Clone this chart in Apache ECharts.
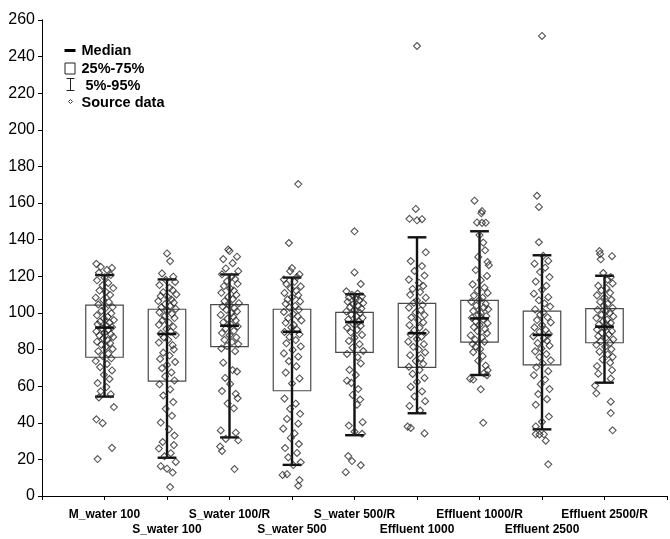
<!DOCTYPE html>
<html>
<head>
<meta charset="utf-8">
<script src="https://cdn.jsdelivr.net/npm/echarts@6/dist/echarts.min.js"></script>
<style>
html, body { margin: 0; padding: 0; background: #fff; }
#chart { width: 670px; height: 539px; }
</style>
</head>
<body>
<div id="chart"></div>
<script>
// groups, left to right
const categories = [
    'M_water 100', 'S_water 100', 'S_water 100/R', 'S_water 500', 'S_water 500/R',
    'Effluent 1000', 'Effluent 1000/R', 'Effluent 2500', 'Effluent 2500/R'
];

// box statistics
const p05 = [54.3, 20.9, 32.0, 17.0, 33.2, 45.2, 66.1, 36.4, 61.9];
const p25 = [75.8, 62.8, 81.6, 57.5, 78.5, 70.3, 84.0, 71.6, 83.7];
const medians = [92.0, 88.5, 93.0, 89.7, 95.0, 88.9, 97.0, 88.0, 92.5];
const p75 = [104.3, 102.0, 104.5, 102.0, 100.3, 105.2, 106.9, 101.0, 102.3];
const p95 = [120.7, 118.3, 121.0, 119.3, 110.2, 141.3, 144.6, 131.5, 120.3];

// source data: [jitter offset, value]
const mWater100 = [[-0.13,126.8],[-0.06,125.2],[0.12,124.6],[0.04,123.5],[-0.09,121.9],[0.1,120.7],[0.0,119.3],[-0.12,117.8],[0.06,116.4],[-0.03,115.1],[0.14,113.6],[-0.08,112.2],[0.02,111.5],[0.09,109.8],[-0.14,108.3],[-0.02,107.1],[0.07,105.9],[-0.1,104.6],[0.13,103.2],[0.01,102.4],[-0.05,101.1],[0.11,99.8],[-0.12,98.7],[0.05,97.9],[-0.01,97.0],[0.15,96.1],[-0.07,95.3],[0.08,94.6],[-0.11,93.8],[0.03,93.1],[0.12,92.2],[-0.04,91.5],[0.06,90.7],[-0.13,89.9],[0.0,89.2],[0.1,88.4],[-0.08,87.6],[0.14,86.9],[-0.02,86.1],[0.05,85.2],[-0.12,84.3],[0.09,83.5],[-0.05,82.6],[0.02,81.4],[0.13,80.3],[-0.1,79.1],[0.06,77.8],[-0.03,76.5],[0.11,75.2],[-0.14,73.7],[0.04,72.1],[-0.07,70.4],[0.12,68.6],[-0.01,66.2],[0.08,63.9],[-0.11,61.7],[0.03,59.5],[-0.06,57.2],[0.1,55.6],[-0.09,53.8],[0.15,48.6],[-0.13,41.9],[-0.03,39.8],[0.12,26.3],[-0.11,20.2]];
const sWater100 = [[0.0,132.5],[0.05,128.3],[-0.08,121.6],[0.1,119.8],[-0.02,118.1],[0.13,116.9],[-0.12,115.2],[0.04,113.7],[0.09,112.4],[-0.06,111.3],[0.15,110.1],[-0.1,109.2],[0.02,108.4],[0.07,107.3],[-0.14,106.5],[0.11,105.6],[-0.03,104.8],[0.05,103.9],[-0.09,103.1],[0.14,102.2],[0.0,101.4],[-0.12,100.3],[0.08,99.5],[-0.04,98.1],[0.12,97.2],[-0.07,96.0],[0.03,94.7],[-0.13,93.5],[0.1,92.4],[-0.01,91.2],[0.06,89.8],[-0.1,88.7],[0.14,87.9],[-0.05,86.6],[0.02,85.3],[-0.13,83.8],[0.09,82.4],[0.11,80.1],[-0.06,78.3],[0.04,76.7],[-0.11,74.9],[0.13,73.2],[0.0,71.6],[-0.08,69.8],[0.07,67.5],[-0.03,65.4],[0.12,63.1],[-0.12,61.0],[0.05,58.2],[-0.06,54.9],[0.1,51.3],[-0.02,47.6],[0.08,43.8],[-0.1,40.1],[0.03,36.4],[0.12,33.0],[-0.07,29.5],[0.11,27.8],[-0.13,25.9],[0.06,23.4],[-0.04,21.7],[0.14,18.6],[-0.1,16.3],[0.0,14.9],[0.09,12.8],[0.05,4.9]];
const sWater100R = [[-0.02,134.6],[0.0,133.8],[-0.1,129.4],[0.12,130.7],[0.05,127.2],[-0.06,124.3],[0.14,122.8],[-0.12,121.1],[0.03,119.7],[0.09,118.5],[-0.04,117.3],[0.13,115.9],[-0.09,114.6],[0.01,113.4],[0.07,112.2],[-0.13,111.0],[0.11,109.8],[-0.02,108.7],[0.05,107.5],[-0.08,106.4],[0.15,105.3],[0.0,104.4],[-0.11,103.5],[0.08,102.6],[-0.05,101.7],[0.12,100.8],[0.03,99.9],[-0.14,98.9],[0.06,97.8],[-0.03,96.9],[0.1,95.9],[-0.1,94.8],[0.02,93.7],[0.13,92.6],[-0.06,91.4],[0.07,90.2],[-0.12,89.0],[0.0,87.8],[0.11,86.6],[-0.08,85.3],[0.04,84.1],[0.14,83.0],[-0.04,82.0],[-0.13,80.6],[0.09,79.1],[-0.1,72.8],[0.05,68.8],[0.12,68.0],[-0.07,64.5],[0.01,61.2],[-0.12,57.3],[0.1,55.8],[0.13,53.4],[-0.03,50.5],[0.07,47.9],[-0.14,35.8],[0.1,34.6],[-0.06,31.2],[0.14,30.4],[-0.15,27.0],[-0.12,24.6],[0.08,14.7]];
const sWater500 = [[0.1,170.4],[-0.05,138.2],[0.0,124.5],[-0.03,122.8],[0.12,121.0],[0.08,119.6],[-0.13,118.3],[0.04,117.0],[-0.09,115.8],[0.14,114.5],[-0.02,113.4],[0.07,112.1],[-0.12,110.9],[0.1,109.7],[0.0,108.6],[-0.07,107.4],[0.13,106.3],[-0.1,105.0],[0.05,103.8],[-0.04,102.9],[0.11,101.7],[-0.13,100.5],[0.02,99.4],[0.09,98.2],[-0.06,97.1],[0.15,95.9],[-0.1,94.6],[0.03,93.4],[-0.01,92.1],[0.08,90.9],[-0.12,89.6],[0.12,88.3],[-0.04,86.9],[0.06,85.2],[-0.09,83.4],[0.14,81.7],[0.01,79.8],[-0.13,77.9],[0.1,76.1],[-0.05,73.6],[0.07,70.8],[-0.1,67.4],[0.12,64.2],[0.0,61.5],[-0.12,53.2],[0.06,50.4],[-0.03,47.6],[0.13,44.9],[-0.08,42.1],[0.1,39.5],[-0.14,36.8],[0.04,34.2],[-0.02,31.7],[0.11,28.4],[-0.11,26.2],[0.08,23.5],[-0.06,21.1],[0.14,18.4],[0.02,16.9],[-0.15,11.5],[-0.08,11.9],[0.12,8.7],[0.1,5.6]];
const sWater500R = [[0.0,144.6],[0.0,122.1],[0.1,115.8],[-0.13,111.8],[0.05,110.6],[-0.04,109.9],[0.12,109.1],[-0.09,108.4],[0.02,107.6],[0.08,106.9],[-0.11,106.1],[0.14,105.4],[-0.02,104.7],[0.06,103.9],[-0.07,103.2],[0.11,102.4],[0.0,101.6],[-0.13,100.8],[0.09,100.0],[-0.05,99.1],[0.03,98.2],[0.13,97.3],[-0.1,96.3],[0.07,95.2],[-0.02,94.1],[0.1,93.0],[-0.12,91.9],[0.04,90.7],[-0.06,89.4],[0.12,88.0],[0.0,86.5],[-0.09,84.7],[0.08,82.9],[-0.03,81.0],[0.14,79.2],[-0.12,77.6],[0.05,75.8],[0.1,72.4],[-0.08,68.9],[0.02,66.1],[-0.12,63.0],[-0.05,61.8],[0.06,58.4],[-0.03,55.2],[0.09,52.7],[0.04,49.9],[0.13,40.3],[-0.09,38.5],[0.0,35.1],[0.12,34.0],[-0.1,21.8],[-0.04,19.1],[0.1,16.8],[-0.14,13.0]];
const effluent1000 = [[0.0,245.8],[-0.02,156.8],[-0.12,151.4],[0.0,150.6],[0.08,151.2],[0.14,133.1],[-0.1,128.3],[0.08,125.6],[-0.04,122.9],[0.12,120.4],[-0.13,118.2],[0.03,116.5],[0.1,114.7],[-0.07,113.1],[0.05,111.4],[-0.11,109.9],[0.14,108.3],[0.0,106.8],[-0.05,105.6],[0.09,104.3],[-0.13,102.9],[0.06,101.5],[-0.02,100.2],[0.12,98.8],[-0.09,97.5],[0.02,96.1],[0.1,94.8],[-0.12,93.3],[0.04,91.9],[-0.04,90.6],[0.14,89.4],[-0.1,88.2],[0.07,87.0],[0.0,85.7],[-0.14,84.3],[0.11,82.9],[-0.06,81.5],[0.03,80.0],[0.13,78.4],[-0.11,76.9],[0.06,75.3],[-0.02,73.8],[0.1,72.2],[-0.13,70.6],[0.04,68.9],[-0.07,66.7],[0.12,64.5],[0.0,62.3],[-0.1,59.6],[0.08,57.1],[-0.04,54.4],[0.13,51.8],[-0.12,49.2],[0.05,46.7],[-0.15,37.9],[-0.1,37.2],[0.12,34.2]];
const effluent1000R = [[-0.08,161.3],[0.04,155.6],[0.03,154.4],[-0.04,149.4],[0.04,149.2],[0.1,149.3],[0.0,142.5],[0.06,138.4],[0.09,134.2],[-0.02,130.6],[0.13,127.8],[0.15,126.1],[-0.06,123.4],[0.12,120.2],[0.02,117.9],[-0.11,115.6],[0.08,113.8],[-0.03,112.2],[0.13,110.9],[-0.09,109.5],[0.05,108.3],[0.0,107.2],[-0.13,106.1],[0.1,105.0],[-0.05,104.0],[0.07,103.0],[0.14,102.0],[-0.1,101.0],[0.02,100.0],[-0.02,99.1],[0.11,98.2],[-0.12,97.3],[0.06,96.4],[-0.06,95.4],[0.13,94.4],[0.0,93.4],[-0.09,92.3],[0.09,91.2],[-0.03,90.1],[0.12,88.9],[-0.14,87.7],[0.04,86.5],[-0.07,85.4],[0.08,84.3],[-0.11,83.0],[-0.06,81.6],[0.01,80.2],[-0.1,78.6],[0.05,76.4],[-0.02,73.9],[0.1,71.2],[0.13,68.7],[0.07,67.1],[0.12,66.0],[-0.15,64.1],[-0.1,63.6],[0.02,58.3],[0.06,40.0]];
const effluent2500 = [[0.0,251.3],[-0.08,164.0],[-0.05,157.9],[-0.05,138.6],[0.02,131.2],[0.1,128.4],[-0.12,126.9],[0.05,124.7],[-0.03,122.3],[0.12,119.6],[-0.1,117.1],[0.07,114.8],[0.0,112.6],[-0.13,110.5],[0.1,108.6],[-0.05,106.9],[0.04,105.2],[0.13,103.5],[-0.11,101.9],[0.02,100.4],[-0.03,99.0],[0.09,97.6],[-0.08,96.1],[0.14,94.8],[0.0,93.4],[-0.12,92.1],[0.06,90.8],[-0.04,89.6],[0.11,88.5],[-0.14,87.3],[0.03,86.1],[0.08,84.8],[-0.07,83.5],[0.12,82.1],[-0.01,80.6],[-0.11,79.0],[0.07,77.5],[-0.04,75.8],[0.14,74.1],[0.01,72.4],[-0.09,70.3],[0.1,68.2],[-0.13,66.0],[0.05,63.6],[-0.02,61.1],[0.12,58.4],[-0.06,55.7],[0.08,52.9],[-0.1,49.8],[0.11,43.4],[0.0,40.5],[-0.1,38.0],[-0.1,33.8],[-0.04,33.6],[0.03,33.7],[0.06,30.2],[0.1,17.3]];
const effluent2500R = [[-0.08,133.8],[-0.07,132.2],[0.12,131.0],[-0.06,129.3],[-0.02,121.8],[0.1,119.6],[0.05,118.2],[0.13,116.1],[-0.1,114.8],[0.03,113.6],[-0.05,112.3],[0.09,111.0],[-0.12,109.6],[0.0,108.4],[0.11,107.2],[-0.07,106.0],[0.05,104.9],[-0.01,103.8],[0.13,102.7],[-0.11,101.7],[0.02,100.8],[0.08,99.9],[-0.05,99.0],[0.14,98.1],[-0.13,97.2],[0.04,96.3],[-0.02,95.4],[0.1,94.5],[-0.09,93.6],[0.06,92.7],[0.0,91.8],[-0.12,90.9],[0.12,90.0],[-0.04,89.1],[0.07,88.2],[-0.1,87.3],[0.02,86.4],[0.14,85.5],[-0.06,84.5],[0.09,83.6],[-0.13,82.6],[0.01,81.5],[0.11,80.2],[-0.08,78.8],[0.05,77.3],[0.13,76.0],[-0.03,74.6],[0.09,72.8],[-0.12,70.9],[0.12,68.7],[-0.1,66.8],[0.1,64.1],[-0.15,60.3],[-0.13,56.1],[0.1,51.5],[0.1,45.3],[0.13,35.9]];

const sourceData = [mWater100, sWater100, sWater100R, sWater500, sWater500R,
    effluent1000, effluent1000R, effluent2500, effluent2500R];

const BOX_HALF = 0.3;   // half box width, in category units
const CAP_HALF = 0.15;  // half whisker cap width
const FONT = 'Liberation Sans, Arial, sans-serif';

const chart = echarts.init(document.getElementById('chart'));

const stats = categories.map((c, i) => [i + 1, p05[i], p25[i], medians[i], p75[i], p95[i]]);

const points = [];
sourceData.forEach((list, i) => {
    for (const [dx, v] of list) points.push([i + 1 + dx, v]);
});

const renderBox = (params, api) => {
    const x = api.value(0);
    const a = api.coord([x - BOX_HALF, api.value(4)]);
    const b = api.coord([x + BOX_HALF, api.value(2)]);
    return {
        type: 'rect',
        shape: { x: a[0], y: a[1], width: b[0] - a[0], height: b[1] - a[1] },
        style: { fill: 'none', stroke: '#4a4a4a', lineWidth: 1.2 }
    };
};

const renderWhisker = (params, api) => {
    const x = api.value(0);
    const lo = api.coord([x, api.value(1)]);
    const hi = api.coord([x, api.value(5)]);
    const l1 = api.coord([x - CAP_HALF, api.value(1)]);
    const r1 = api.coord([x + CAP_HALF, api.value(1)]);
    const l2 = api.coord([x - CAP_HALF, api.value(5)]);
    const r2 = api.coord([x + CAP_HALF, api.value(5)]);
    const style = { stroke: '#111', lineWidth: 2.4 };
    return {
        type: 'group',
        children: [
            { type: 'line', shape: { x1: lo[0], y1: lo[1], x2: hi[0], y2: hi[1] }, style },
            { type: 'line', shape: { x1: l1[0], y1: l1[1], x2: r1[0], y2: r1[1] }, style },
            { type: 'line', shape: { x1: l2[0], y1: l2[1], x2: r2[0], y2: r2[1] }, style }
        ]
    };
};

const renderMedian = (params, api) => {
    const x = api.value(0);
    const l = api.coord([x - CAP_HALF, api.value(3)]);
    const r = api.coord([x + CAP_HALF, api.value(3)]);
    return {
        type: 'line',
        shape: { x1: l[0], y1: l[1], x2: r[0], y2: r[1] },
        style: { stroke: '#111', lineWidth: 2.6 }
    };
};

const legendText = (text, x, y) => ({
    type: 'text', x, y,
    style: { text, font: 'bold 14.5px ' + FONT, fill: '#000', textVerticalAlign: 'middle' }
});

const option = {
    animation: false,
    grid: { left: 42, right: 2, top: 20, bottom: 43 },
    xAxis: [
        {
            type: 'value', min: 0, max: 10, interval: 1,
            splitLine: { show: false },
            axisLine: { lineStyle: { color: '#000', width: 1 } },
            axisTick: { length: 4, lineStyle: { color: '#000' } },
            axisLabel: {
                margin: 11, lineHeight: 15,
                fontFamily: FONT, fontSize: 12, fontWeight: 'bold', color: '#000',
                formatter: (v) => {
                    const name = categories[v - 1];
                    if (!name) return '';
                    return v % 2 === 0 ? '\n' + name : name;
                }
            }
        },
        {
            type: 'value', min: 0, max: 10, interval: 1, position: 'top',
            splitLine: { show: false },
            axisLine: { lineStyle: { color: '#000', width: 1 } },
            axisTick: { inside: true, length: 4, lineStyle: { color: '#000' } },
            axisLabel: { show: false }
        }
    ],
    yAxis: [
        {
            type: 'value', min: 0, max: 260, interval: 20,
            splitLine: { show: false },
            axisLine: { show: true, lineStyle: { color: '#000', width: 1 } },
            axisTick: { show: true, length: 4, lineStyle: { color: '#000' } },
            axisLabel: { margin: 7, fontFamily: FONT, fontSize: 16, color: '#000' }
        },
        {
            type: 'value', min: 0, max: 260, interval: 20, position: 'right',
            splitLine: { show: false },
            axisLine: { show: true, lineStyle: { color: '#000', width: 1 } },
            axisTick: { show: true, inside: true, length: 4, lineStyle: { color: '#000' } },
            axisLabel: { show: false }
        }
    ],
    series: [
        {
            name: '25%-75%', type: 'custom', renderItem: renderBox,
            encode: { x: 0, y: [1, 2, 3, 4, 5] }, data: stats, z: 1, silent: true
        },
        {
            name: '5%-95%', type: 'custom', renderItem: renderWhisker,
            encode: { x: 0, y: [1, 2, 3, 4, 5] }, data: stats, z: 2, silent: true
        },
        {
            name: 'Source data', type: 'scatter', data: points, z: 3, silent: true,
            symbol: 'diamond', symbolSize: 7,
            itemStyle: { color: 'rgba(255,255,255,0)', borderColor: '#2a2a2a', borderWidth: 1.1 }
        },
        {
            name: 'Median', type: 'custom', renderItem: renderMedian,
            encode: { x: 0, y: [1, 2, 3, 4, 5] }, data: stats, z: 4, silent: true
        }
    ],
    graphic: [
        {
            type: 'group', left: 62, top: 43,
            children: [
                { type: 'line', shape: { x1: 1, y1: 7, x2: 12, y2: 7 }, style: { stroke: '#000', lineWidth: 3 } },
                legendText('Median', 18, 7),
                { type: 'rect', shape: { x: 1.5, y: 19.5, width: 10, height: 11 }, style: { fill: 'none', stroke: '#222', lineWidth: 1 } },
                legendText('25%-75%', 18, 25),
                { type: 'line', shape: { x1: 7, x2: 7, y1: 35, y2: 47 }, style: { stroke: '#222', lineWidth: 1 } },
                { type: 'line', shape: { x1: 3, x2: 11, y1: 35, y2: 35 }, style: { stroke: '#222', lineWidth: 1 } },
                { type: 'line', shape: { x1: 3, x2: 11, y1: 47, y2: 47 }, style: { stroke: '#222', lineWidth: 1 } },
                legendText(' 5%-95%', 18, 42),
                { type: 'polygon', shape: { points: [[5, 58], [7, 56], [9, 58], [7, 60]] }, style: { fill: 'none', stroke: '#444', lineWidth: 1 } },
                legendText('Source data', 18, 59)
            ]
        }
    ]
};

chart.setOption(option);
</script>
</body>
</html>
